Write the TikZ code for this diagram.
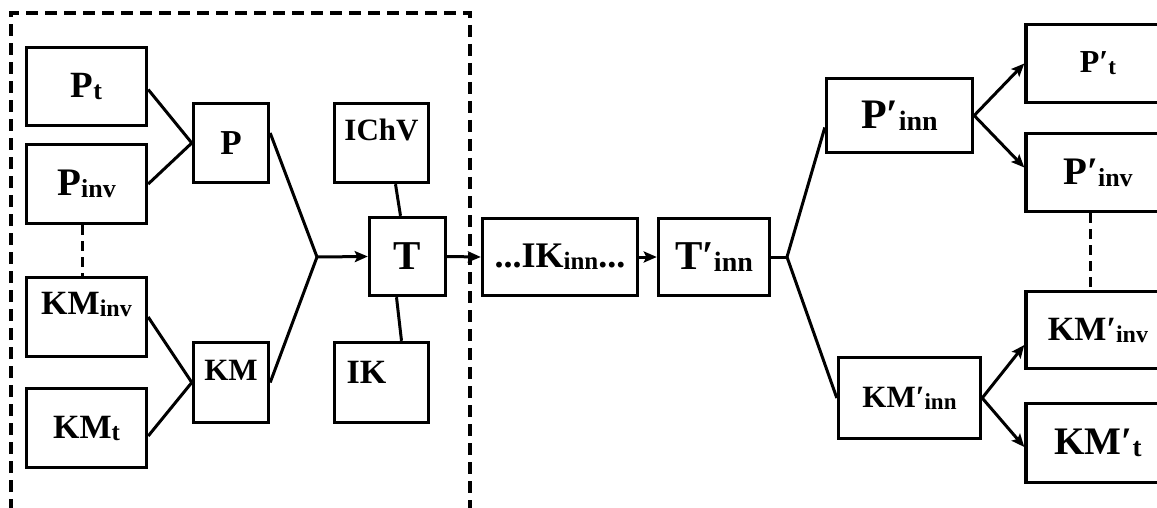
\documentclass[tikz,border=0pt]{standalone}
\usepackage{fontspec}
\setmainfont{Liberation Serif}
\usetikzlibrary{arrows.meta}
\newcommand\fs[1]{\fontsize{#1}{#1}\selectfont}
\newcommand\sbs[2]{\raisebox{-2pt}{\fontsize{#1}{#1}\selectfont #2}}
\tikzset{
  box/.style={draw, line width=3.4pt, inner sep=0pt, font=\bfseries},
  ln/.style={line width=3pt},
  arr/.style={line width=3pt, -{Stealth[length=13pt,width=11pt,inset=2.5pt]}},
  dsh/.style={line width=3pt, dash pattern=on 10pt off 6pt},
  frame/.style={line width=3.6pt, dash pattern=on 12pt off 7pt},
  txt/.style={inner sep=0pt, font=\bfseries}
}
\begin{document}
\begin{tikzpicture}[x=1pt,y=-1pt]
\clip (0,0) rectangle (1157,508);
\fill[white] (0,0) rectangle (1157,508);
% dashed frame
\draw[frame] (11,530) -- (11,13) -- (470,13) -- (470,530);
% left boxes
\node[box, minimum width=120pt, minimum height=78pt] (pt) at (86.5,86.5) {\fs{37}P\sbs{26}{t}};
\node[box, minimum width=120pt, minimum height=79pt] (pinv) at (86.5,184) {\fs{39}P\sbs{26}{inv}};
\node[box, minimum width=120pt, minimum height=79pt] (kminv) at (86.5,317) {};
\node[txt] at ([yshift=13pt]kminv.center) {\fs{34}KM\sbs{24}{inv}};
\node[box, minimum width=120pt, minimum height=79pt] (kmt) at (86.5,428) {\fs{34}KM\sbs{25}{t}};
\node[box, minimum width=75pt, minimum height=79pt] (p) at (231,143) {\fs{35}P};
\node[box, minimum width=75pt, minimum height=80pt] (km) at (231,382.5) {};
\node[txt] at ([yshift=12pt]km.center) {\fs{31}KM};
\node[box, minimum width=94pt, minimum height=79pt] (ichv) at (381.5,143) {};
\node[txt] at ([yshift=13pt]ichv.center) {\fs{31}IChV};
\node[box, minimum width=76pt, minimum height=78pt] (t) at (407.5,256.5) {\fs{41}T};
\node[box, minimum width=94pt, minimum height=80pt] (ik) at (381.5,382.5) {};
\node[txt] at ([xshift=-15pt,yshift=10pt]ik.center) {\fs{34}IK};
% middle
\node[box, minimum width=155pt, minimum height=77pt] (ikinn) at (560,257) {\fs{36}...IK\sbs{25}{inn}...};
\node[box, minimum width=111pt, minimum height=77pt] (tinn) at (714,257) {\fs{41}T′\sbs{28}{inn}};
% right
\node[box, minimum width=146pt, minimum height=74pt] (pinn) at (899.5,115.5) {\fs{42}P′\sbs{28}{inn}};
\node[box, minimum width=142pt, minimum height=81pt] (kminn) at (909.5,398) {\fs{31}KM′\sbs{23}{inn}};
\node[box, minimum width=144pt, minimum height=78pt] (pt2) at (1098,63.5) {\fs{32}P′\sbs{23}{t}};
\node[box, minimum width=144pt, minimum height=78pt] (pinv2) at (1098,172.5) {\fs{39}P′\sbs{26}{inv}};
\node[box, minimum width=144pt, minimum height=77pt] (kminv2) at (1098,330) {\fs{34}KM′\sbs{24}{inv}};
\node[box, minimum width=144pt, minimum height=79pt] (kmt2) at (1098,443) {\fs{39}KM′\sbs{27}{t}};
% junctions
\coordinate (j1) at (317,257);
\coordinate (j2) at (787,257);
% connectors left
\draw[ln] ([yshift=-3pt]pt.east) -- (p.west);
\draw[ln] (pinv.east) -- (p.west);
\draw[ln] (kminv.east) -- (km.west);
\draw[ln] ([yshift=-8pt]kmt.east) -- (km.west);
\draw[ln] ([yshift=10pt]p.east) -- (j1);
\draw[ln] (km.east) -- (j1);
\draw[arr] (j1) -- (t.west);
\draw[ln] ([xshift=14pt]ichv.south) -- ([xshift=-7pt]t.north);
\draw[ln] ([xshift=20pt]ik.north) -- ([xshift=-11pt]t.south);
\draw[dsh] ([xshift=-4.5pt]pinv.south) -- ([xshift=-4.5pt]kminv.north);
% middle connectors
\draw[arr] (t.east) -- (ikinn.west);
\draw[arr] (ikinn.east) -- (tinn.west);
\draw[ln] (tinn.east) -- (j2);
\draw[ln] (j2) -- ([yshift=-12pt]pinn.west);
\draw[ln] (j2) -- (kminn.west);
% right connectors
\draw[arr] (pinn.east) -- (pt2.west);
\draw[arr] (pinn.east) -- ([yshift=5pt]pinv2.west);
\draw[arr] (kminn.east) -- ([yshift=-15pt]kminv2.west);
\draw[arr] (kminn.east) -- ([yshift=-4pt]kmt2.west);
\draw[dsh] ([xshift=-8pt]pinv2.south) -- ([xshift=-8pt]kminv2.north);
\end{tikzpicture}
\end{document}
